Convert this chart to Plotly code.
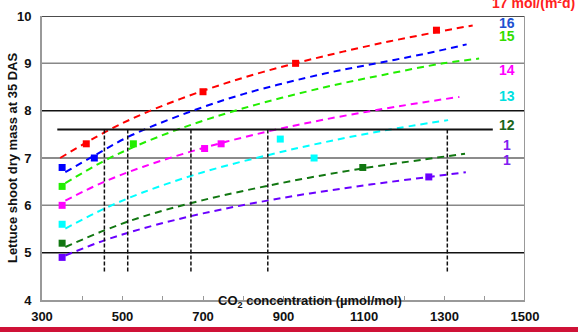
import plotly.graph_objects as go

# ---- data ----
colors = ["#ff0000", "#0000ff", "#22ee00", "#ff00ff", "#00ffff", "#117711", "#6a00ff"]

curve_red_x = [345, 455, 550, 700, 850, 1000, 1150, 1280, 1370]
curve_red_y = [7.0, 7.54, 7.93, 8.42, 8.82, 9.15, 9.44, 9.66, 9.80]
curve_blue_x = [358, 430, 515, 643, 800, 1000, 1106, 1250, 1355]
curve_blue_y = [6.70, 7.05, 7.45, 7.90, 8.35, 8.78, 8.96, 9.20, 9.40]
curve_green_x = [358, 450, 527, 643, 800, 1000, 1150, 1297, 1386]
curve_green_y = [6.47, 6.92, 7.23, 7.62, 8.05, 8.49, 8.76, 9.00, 9.10]
curve_mag_x = [358, 450, 550, 704, 861, 1000, 1150, 1250, 1337]
curve_mag_y = [6.10, 6.48, 6.81, 7.22, 7.56, 7.81, 8.04, 8.18, 8.29]
curve_cyan_x = [358, 455, 550, 700, 861, 1000, 1150, 1309]
curve_cyan_y = [5.51, 5.93, 6.27, 6.70, 7.06, 7.33, 7.58, 7.80]
curve_dg_x = [358, 455, 550, 700, 900, 1097, 1250, 1351]
curve_dg_y = [5.12, 5.47, 5.76, 6.11, 6.48, 6.78, 6.97, 7.09]
curve_pur_x = [358, 455, 550, 700, 900, 1100, 1261, 1353]
curve_pur_y = [4.94, 5.26, 5.51, 5.83, 6.16, 6.42, 6.60, 6.70]

pts_red_x = [410, 700, 930, 1280]
pts_red_y = [7.3, 8.4, 9.0, 9.7]
pts_blue_x = [350, 430]
pts_blue_y = [6.8, 7.0]
pts_green_x = [350, 527]
pts_green_y = [6.4, 7.3]
pts_mag_x = [350, 704, 745]
pts_mag_y = [6.0, 7.2, 7.3]
pts_cyan_x = [350, 892, 976]
pts_cyan_y = [5.6, 7.4, 7.0]
pts_dg_x = [350, 1097]
pts_dg_y = [5.2, 6.8]
pts_pur_x = [350, 1261]
pts_pur_y = [4.9, 6.6]

target_y = 7.6
target_x = [338, 1420]
cross_x = [455, 513, 670, 861, 1307]
cross_bottom = 4.6

label_texts = ["16", "15", "14", "13", "12", "1", "1"]
label_y = [9.85, 9.57, 8.85, 8.32, 7.70, 7.28, 6.96]
label_colors = ["#2050d0", "#33dd00", "#ff00ff", "#00e0e0", "#1a661a", "#8020f0", "#8020f0"]

x_ticks = [300, 400, 500, 600, 700, 800, 900, 1000, 1100, 1200, 1300, 1400, 1500]
x_ticktext = ["300", "", "500", "", "700", "", "900", "", "1100", "", "1300", "", "1500"]
y_ticks = [4, 5, 6, 7, 8, 9, 10]

grid_vals = [5, 6, 7, 8, 9, 10]
grid_cols = ["#111111", "#888888", "#666666", "#111111", "#888888", "#111111"]

curves = [
    (curve_red_x, curve_red_y, pts_red_x, pts_red_y),
    (curve_blue_x, curve_blue_y, pts_blue_x, pts_blue_y),
    (curve_green_x, curve_green_y, pts_green_x, pts_green_y),
    (curve_mag_x, curve_mag_y, pts_mag_x, pts_mag_y),
    (curve_cyan_x, curve_cyan_y, pts_cyan_x, pts_cyan_y),
    (curve_dg_x, curve_dg_y, pts_dg_x, pts_dg_y),
    (curve_pur_x, curve_pur_y, pts_pur_x, pts_pur_y),
]

FONT = "Liberation Sans, Arial"
fig = go.Figure()

shapes = []
for gv, gc in zip(grid_vals, grid_cols):
    shapes.append(dict(type="line", xref="x", yref="y", x0=300, x1=1500, y0=gv, y1=gv,
                       line=dict(color=gc, width=1.5), layer="below"))
shapes.append(dict(type="line", xref="x", yref="y", x0=1500, x1=1500, y0=4, y1=10,
                   line=dict(color="#999999", width=2), layer="below"))
shapes.append(dict(type="line", xref="x", yref="y", x0=target_x[0], x1=target_x[1],
                   y0=target_y, y1=target_y, line=dict(color="#111111", width=2)))
for cx in cross_x:
    shapes.append(dict(type="line", xref="x", yref="y", x0=cx, x1=cx, y0=cross_bottom, y1=target_y,
                       line=dict(color="#111111", width=1.5, dash="4px,2px")))
# red band at the bottom of the slide
shapes.append(dict(type="rect", xref="paper", yref="paper", x0=-0.1, x1=1.12, y0=-0.095, y1=-0.12,
                   fillcolor="#cf1237", line=dict(width=0), layer="above"))

for (cx, cy, px, py), col in zip(curves, colors):
    fig.add_trace(go.Scatter(x=cx, y=cy, mode="lines",
                             line=dict(color=col, width=2, dash="7px,5px", shape="spline"),
                             showlegend=False, hoverinfo="skip"))
    fig.add_trace(go.Scatter(x=px, y=py, mode="markers",
                             marker=dict(color=col, size=7, symbol="square"),
                             showlegend=False))

annotations = []
for t, yv, c in zip(label_texts, label_y, label_colors):
    annotations.append(dict(x=1455, y=yv, xref="x", yref="y", text="<b>%s</b>" % t, showarrow=False,
                            font=dict(size=14, color=c, family=FONT)))
annotations.append(dict(x=1.108, y=1.045, xref="paper", yref="paper", xanchor="right", yanchor="middle",
                        text="<b>17 mol/(m²d)</b>", showarrow=False,
                        font=dict(size=14, color="#ff2020", family=FONT)))
annotations.append(dict(x=966, y=-0.005, xref="x", yref="paper", xanchor="center", yanchor="middle",
                        text="<b>CO<sub>2</sub> concentration (µmol/mol)</b>", showarrow=False,
                        font=dict(size=13, color="#111111", family=FONT)))
annotations.append(dict(x=-0.062, y=0.5, xref="paper", yref="paper", textangle=-90,
                        xanchor="center", yanchor="middle",
                        text="<b>Lettuce shoot dry mass at 35 DAS</b>", showarrow=False,
                        font=dict(size=13, color="#111111", family=FONT)))

fig.update_layout(
    width=578, height=332,
    margin=dict(l=42, r=53, t=16, b=32, autoexpand=False),
    plot_bgcolor="white", paper_bgcolor="white",
    shapes=shapes, annotations=annotations,
    font=dict(family=FONT, size=13, color="#111111"),
    xaxis=dict(range=[300, 1500], tickvals=x_ticks, ticktext=x_ticktext, showgrid=False, zeroline=False,
               showline=True, linecolor="#999999", linewidth=2, ticks="inside", ticklen=4,
               tickcolor="#999999", automargin=False, ticklabelstandoff=3,
               tickfont=dict(size=13, family=FONT, weight="bold")),
    yaxis=dict(range=[4, 10], tickvals=y_ticks, showgrid=False, zeroline=False,
               showline=True, linecolor="#999999", linewidth=2, ticks="outside", ticklen=6,
               tickcolor="rgba(0,0,0,0)", automargin=False,
               tickfont=dict(size=13, family=FONT, weight="bold")),
)

fig.write_html("out.html", config={"displayModeBar": False},
               post_script="document.body.style.margin='0';document.body.style.overflow='hidden';")
